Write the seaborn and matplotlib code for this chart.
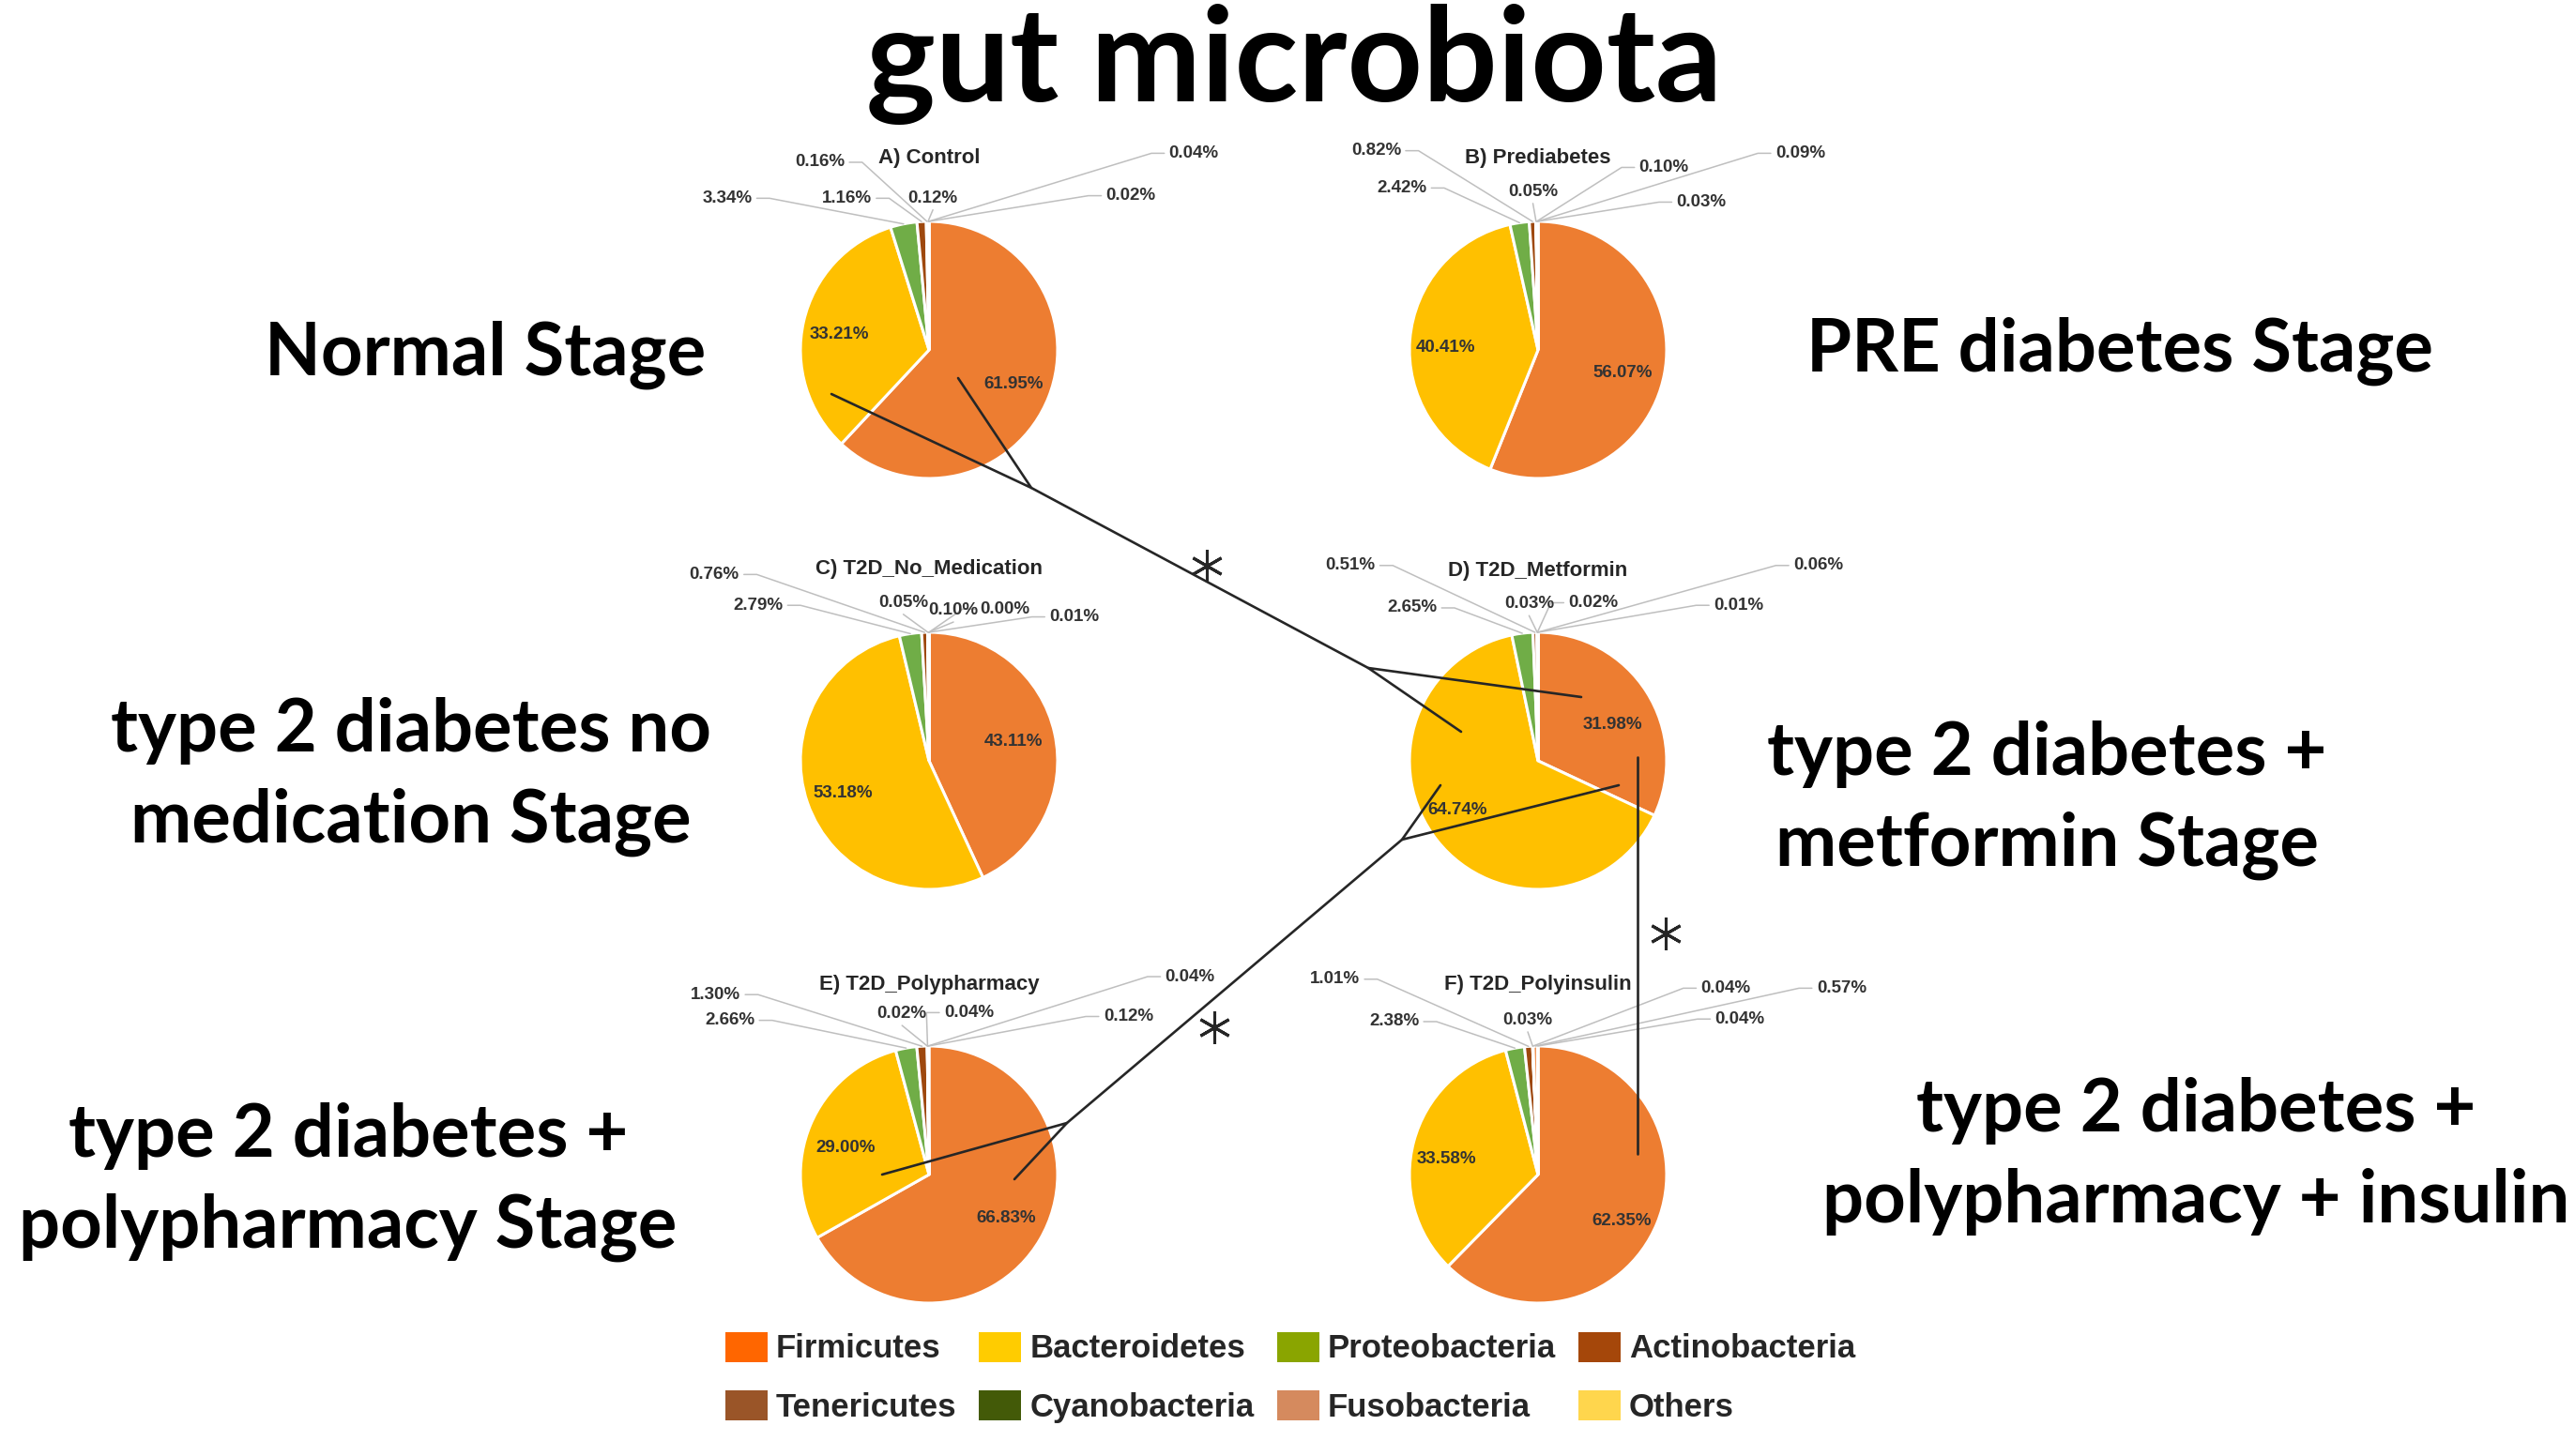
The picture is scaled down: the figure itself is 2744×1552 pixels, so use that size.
import numpy as np
import pandas as pd
import matplotlib
matplotlib.use("Agg")
import matplotlib.pyplot as plt
import seaborn as sns
from matplotlib.patches import Patch

sns.set_theme(style="white")
plt.rcParams['font.family'] = ['Liberation Sans', 'DejaVu Sans']

# ---- data (relative abundance, %) ----
phyla = ['Firmicutes', 'Bacteroidetes', 'Proteobacteria', 'Actinobacteria',
         'Tenericutes', 'Cyanobacteria', 'Fusobacteria', 'Others']
groups = ['A) Control', 'B) Prediabetes', 'C) T2D_No_Medication',
          'D) T2D_Metformin', 'E) T2D_Polypharmacy', 'F) T2D_Polyinsulin']
control = [61.95, 33.21, 3.34, 1.16, 0.16, 0.12, 0.04, 0.02]
prediabetes = [56.07, 40.41, 2.42, 0.82, 0.05, 0.10, 0.09, 0.03]
no_medication = [43.11, 53.18, 2.79, 0.76, 0.05, 0.10, 0.00, 0.01]
metformin = [31.98, 64.74, 2.65, 0.51, 0.03, 0.02, 0.06, 0.01]
polypharmacy = [66.83, 29.00, 2.66, 1.30, 0.02, 0.04, 0.04, 0.12]
polyinsulin = [62.35, 33.58, 2.38, 1.01, 0.03, 0.04, 0.57, 0.04]
stages = ['Normal Stage', 'PRE diabetes Stage',
          'type 2 diabetes no\nmedication Stage',
          'type 2 diabetes +\nmetformin Stage',
          'type 2 diabetes +\npolypharmacy Stage',
          'type 2 diabetes +\npolypharmacy + insulin']

df = pd.DataFrame(dict(zip(groups, [control, prediabetes, no_medication,
                                    metformin, polypharmacy, polyinsulin])),
                  index=phyla)

pie_colors = ['#ED7D31', '#FFC000', '#70AD47', '#9E480E',
              '#A5673F', '#43682B', '#F1975A', '#FFD966']
legend_colors = ['#FF6600', '#FFCC00', '#8AA500', '#A5470A',
                 '#9A5528', '#435A08', '#D58A5E', '#FFD64D']

# ---- layout (pixels, radius units) ----
W, H = 2744, 1552
R = 137
XL, YL = (-3.0, 3.0), (-1.25, 1.85)
centers = [(990, 373), (1639, 373), (990, 811), (1639, 811), (990, 1252), (1639, 1252)]
title_off = [(0, 1.49), (0, 1.49), (0, 1.49), (0, 1.48), (0, 1.48), (0, 1.48)]
label_off = [
    [(0.66, -0.27), (-0.70, 0.12), (-1.57, 1.18), (-0.64, 1.18), (-0.85, 1.46), (0.03, 1.18), (2.06, 1.53), (1.57, 1.20)],
    [(0.66, -0.18), (-0.72, 0.02), (-1.06, 1.26), (-1.26, 1.55), (-0.04, 1.23), (0.98, 1.42), (2.04, 1.53), (1.27, 1.15)],
    [(0.66, 0.15), (-0.67, -0.25), (-1.33, 1.21), (-1.67, 1.45), (-0.20, 1.23), (0.19, 1.17), (0.59, 1.18), (1.13, 1.12)],
    [(0.58, 0.28), (-0.63, -0.38), (-0.98, 1.19), (-1.46, 1.52), (-0.07, 1.22), (0.43, 1.23), (2.18, 1.52), (1.56, 1.21)],
    [(0.60, -0.34), (-0.65, 0.21), (-1.55, 1.20), (-1.66, 1.40), (-0.21, 1.25), (0.31, 1.26), (2.03, 1.54), (1.55, 1.23)],
    [(0.65, -0.36), (-0.71, 0.12), (-1.12, 1.19), (-1.58, 1.52), (-0.08, 1.20), (1.46, 1.45), (2.36, 1.45), (1.57, 1.21)],
]
stage_pos = [(517, 400), (2259, 396), (438, 898), (2181, 923), (371, 1330), (2340, 1303)]

fig = plt.figure(figsize=(W / 100, H / 100), dpi=100)

for g, (cx, cy), toff, loffs in zip(groups, centers, title_off, label_off):
    left = cx + XL[0] * R
    bottom = (H - cy) + YL[0] * R
    ax = fig.add_axes([left / W, bottom / H, (XL[1] - XL[0]) * R / W, (YL[1] - YL[0]) * R / H])
    vals = df[g].values
    ax.pie(vals, colors=pie_colors, startangle=90, counterclock=False, radius=1,
           wedgeprops=dict(edgecolor='white', linewidth=2.2))
    ax.set_xlim(XL)
    ax.set_ylim(YL)
    ax.axis('off')
    ax.patch.set_alpha(0)
    mids = np.deg2rad(90 - 360 * (np.cumsum(vals) - vals / 2) / vals.sum())
    for i, (v, (lx, ly)) in enumerate(zip(vals, loffs)):
        ax.text(lx, ly, f'{v:.2f}%', ha='center', va='center', fontsize=13.5,
                fontweight='bold', color='#333333', zorder=5)
        if i < 2:
            continue
        axx, axy = np.cos(mids[i]), np.sin(mids[i])
        if axx > lx + 0.3:
            xs, ys = [lx + 0.23, lx + 0.33, axx], [ly, ly, axy]
        elif axx < lx - 0.3:
            xs, ys = [lx - 0.23, lx - 0.33, axx], [ly, ly, axy]
        else:
            xs, ys = [lx, axx], [ly - 0.09, axy]
        ax.plot(xs, ys, color='#BFBFBF', lw=1.1, zorder=1)
    ax.text(toff[0], toff[1], g, ha='center', va='center', fontsize=16,
            fontweight='bold', color='#262626')

# ---- overlay: title, stage names, significance brackets ----
ov = fig.add_axes([0, 0, 1, 1])
ov.set_xlim(0, W)
ov.set_ylim(H, 0)
ov.axis('off')
ov.patch.set_alpha(0)

ov.text(1379, 108, 'gut microbiota', ha='center', va='baseline', fontsize=101,
        fontweight='bold', family=['Lato', 'DejaVu Sans'], color='black')
for s, (x, y) in zip(stages, stage_pos):
    ov.text(x, y, s, ha='center', va='baseline', fontsize=56, fontweight='bold',
            family=['Lato', 'DejaVu Sans'], linespacing=1.43, color='black')

brackets = [
    [(886, 420), (1099, 520), (1021, 403)],
    [(1099, 520), (1458, 712)],
    [(1557, 780), (1458, 712), (1685, 743)],
    [(940, 1252), (1137, 1197), (1081, 1257)],
    [(1137, 1197), (1494, 895)],
    [(1535, 837), (1494, 895), (1725, 837)],
    [(1745, 807), (1745, 1230)],
]
for seg in brackets:
    xs, ys = zip(*seg)
    ov.plot(xs, ys, color='#262626', lw=1.9)
for x, y in [(1286, 603), (1294, 1095), (1775, 995)]:
    ov.plot(x, y, marker=(6, 2, 0), ms=25, mew=2.2, color='#262626')

# ---- legend (row-major order) ----
order = [0, 4, 1, 5, 2, 6, 3, 7]
handles = [Patch(facecolor=legend_colors[i], edgecolor='none') for i in order]
fig.legend(handles, [phyla[i] for i in order], loc='center',
           bbox_to_anchor=(0.501, 0.054), ncol=4, frameon=False,
           prop=dict(family='Liberation Sans', weight='bold', size=25),
           handlelength=1.3, handleheight=1.04, handletextpad=0.25,
           columnspacing=0.7, labelspacing=0.79)

fig.savefig('out.png', dpi=100, facecolor='white')
